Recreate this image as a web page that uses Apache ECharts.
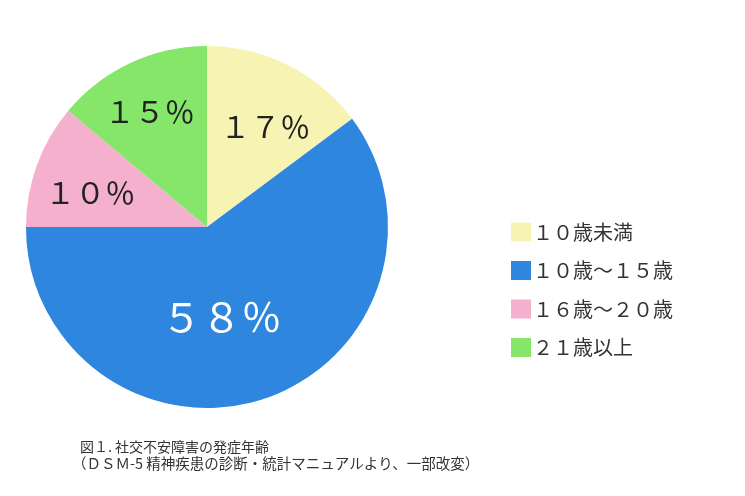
<!DOCTYPE html>
<html>
<head>
<meta charset="utf-8">
<script src="https://cdn.jsdelivr.net/npm/echarts@6/dist/echarts.min.js"></script>
<style>
html,body{margin:0;padding:0;background:#fff;}
#chart{width:745px;height:496px;}
</style>
</head>
<body>
<div id="chart"></div>
<script>
// Categories (legend names)
const categories = ['１０歳未満', '１０歳〜１５歳', '１６歳〜２０歳', '２１歳以上'];
// Slice sizes as drawn in the picture (share of the circle, %)
const sliceShares = [14.8, 60.2, 11.1, 13.9];
// Percentage labels printed on the slices
const sliceLabels = ['１７％', '５８％', '１０％', '１５％'];
// Caption lines
const captionLines = ['図１. 社交不安障害の発症年齢', '（ＤＳＭ-5 精神疾患の診断・統計マニュアルより、一部改変）'];

const colors = ['#f7f4b3', '#2e86de', '#f4b0cd', '#85e66a'];
const FONT = '"Noto Sans CJK JP", "Noto Sans", sans-serif';

const chart = echarts.init(document.getElementById('chart'));

const mainData = categories.map((c, i) => ({
  name: c,
  value: sliceShares[i],
  itemStyle: { color: colors[i] },
  label: i === 1 ? {
    show: true, position: 'inside', formatter: sliceLabels[i],
    color: '#ffffff', fontSize: 40, fontFamily: FONT, offset: [-15, 1]
  } : { show: false }
}));

const labelOffsets = { 0: [4, 8], 2: [-3, 7], 3: [-6, -6] };
const overlayData = categories.map((c, i) => ({
  name: c,
  value: sliceShares[i],
  itemStyle: { color: 'rgba(0,0,0,0)' },
  label: i === 1 ? { show: false } : {
    show: true, position: 'inside', formatter: sliceLabels[i],
    color: '#222222', fontSize: 30, fontFamily: FONT, offset: labelOffsets[i]
  }
}));

const captionStyle = { fontSize: 14, fontWeight: 'normal', color: '#333333', fontFamily: '"Noto Sans CJK JP", sans-serif' };

chart.setOption({
  backgroundColor: '#ffffff',
  animation: false,
  color: colors,
  title: [
    { text: captionLines[0], left: 80, top: 440, padding: 0, textStyle: captionStyle },
    { text: captionLines[1], left: 72, top: 456, padding: 0, textStyle: Object.assign({}, captionStyle, { fontSize: 14.5 }) }
  ],
  legend: {
    orient: 'vertical',
    left: 506,
    top: 217,
    itemWidth: 20,
    itemHeight: 19,
    itemGap: 18.5,
    icon: 'rect',
    data: categories,
    textStyle: { fontSize: 20, color: '#333333', fontFamily: FONT, padding: [0, 0, 0, -3] },
    selectedMode: false
  },
  series: [
    {
      type: 'pie',
      center: [207, 227],
      radius: [0, 181],
      startAngle: 90,
      clockwise: true,
      avoidLabelOverlap: false,
      labelLine: { show: false },
      emphasis: { disabled: true },
      silent: true,
      data: mainData
    },
    {
      type: 'pie',
      center: [207, 227],
      radius: [0, 236],
      startAngle: 90,
      clockwise: true,
      avoidLabelOverlap: false,
      labelLine: { show: false },
      emphasis: { disabled: true },
      silent: true,
      legendHoverLink: false,
      data: overlayData,
      z: 5
    }
  ]
});
</script>
</body>
</html>
